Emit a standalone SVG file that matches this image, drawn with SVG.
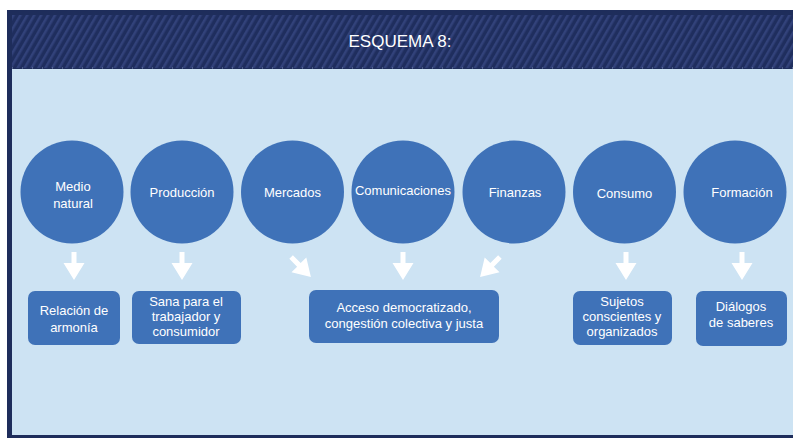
<svg xmlns="http://www.w3.org/2000/svg" width="793" height="438" viewBox="0 0 793 438">
<defs>
<style>
.c{fill:#3f72b8}
.b{fill:#3f72b8}
.t{font-family:"Liberation Sans",Arial,sans-serif;font-size:13px;fill:#ffffff;text-anchor:middle}
.h{font-family:"Liberation Sans",Arial,sans-serif;font-size:17px;fill:#ffffff;text-anchor:middle}
.a{fill:#ffffff}
</style>
<pattern id="stripes" patternUnits="userSpaceOnUse" width="6" height="6" patternTransform="rotate(30)">
<rect width="6" height="6" fill="#1f2e5e"/>
<rect width="2.5" height="6" fill="#32427a"/>
</pattern>
</defs>
<rect x="0" y="0" width="793" height="438" fill="#ffffff"/>
<rect x="7" y="10" width="786" height="428" fill="#1e2d5b"/>
<rect x="12" y="69" width="781" height="366" fill="#cde3f3"/>
<rect x="12" y="15" width="781" height="53" fill="url(#stripes)"/>
<line x1="12" y1="68" x2="793" y2="68" stroke="#7f8fb5" stroke-width="1" stroke-dasharray="1 9"/>
<text class="h" x="400" y="47">ESQUEMA 8:</text>

<g id="n1"><circle class="c" cx="72" cy="192" r="51.5"/><text class="t" x="73" y="191">Medio</text><text class="t" x="73" y="208">natural</text></g>
<g id="n2"><circle class="c" cx="182" cy="192" r="51.5"/><text class="t" x="182" y="197">Producción</text></g>
<g id="n3"><circle class="c" cx="292.5" cy="192" r="51.5"/><text class="t" x="292.5" y="197">Mercados</text></g>
<g id="n4"><circle class="c" cx="403" cy="192" r="51.5"/><text class="t" x="403" y="195">Comunicaciones</text></g>
<g id="n5"><circle class="c" cx="514" cy="192" r="51.5"/><text class="t" x="515" y="197">Finanzas</text></g>
<g id="n6"><circle class="c" cx="624.5" cy="192" r="51.5"/><text class="t" x="624.5" y="198">Consumo</text></g>
<g id="n7"><circle class="c" cx="735" cy="192" r="51.5"/><text class="t" x="742" y="197">Formación</text></g>

<g id="b1"><rect class="b" x="28" y="291" width="92" height="54" rx="7"/><text class="t" x="74" y="315">Relación de</text><text class="t" x="74" y="332">armonía</text></g>
<g id="b2"><rect class="b" x="132" y="291" width="109" height="53" rx="7"/><text class="t" x="186" y="306">Sana para el</text><text class="t" x="186" y="321">trabajador y</text><text class="t" x="186" y="336">consumidor</text></g>
<g id="b3"><rect class="b" x="309" y="290" width="190" height="53" rx="7"/><text class="t" x="404" y="312">Acceso democratizado,</text><text class="t" x="404" y="328">congestión colectiva y justa</text></g>
<g id="b4"><rect class="b" x="573" y="291" width="99" height="54" rx="7"/><text class="t" x="622" y="306">Sujetos</text><text class="t" x="622" y="321">conscientes y</text><text class="t" x="622" y="336">organizados</text></g>
<g id="b5"><rect class="b" x="696" y="291" width="91" height="55" rx="7"/><text class="t" x="741" y="311">Diálogos</text><text class="t" x="741" y="327">de saberes</text></g>

<g id="connectors">
<path class="a" d="M71.5,252 h5 v11 h8 l-10.5,17 l-10.5,-17 h8 z"/>
<path class="a" d="M179.5,252 h5 v11 h8 l-10.5,17 l-10.5,-17 h8 z"/>
<path class="a" d="M400.5,252 h5 v11 h8 l-10.5,17 l-10.5,-17 h8 z"/>
<path class="a" d="M623.5,252 h5 v11 h8 l-10.5,17 l-10.5,-17 h8 z"/>
<path class="a" d="M739.5,252 h5 v11 h8 l-10.5,17 l-10.5,-17 h8 z"/>
<path class="a" d="M71.5,252 h5 v11 h8 l-10.5,17 l-10.5,-17 h8 z" transform="translate(301,267) rotate(-45) translate(-74,-266)"/>
<path class="a" d="M71.5,252 h5 v11 h8 l-10.5,17 l-10.5,-17 h8 z" transform="translate(490,267) rotate(45) translate(-74,-266)"/>
</g>
</svg>
